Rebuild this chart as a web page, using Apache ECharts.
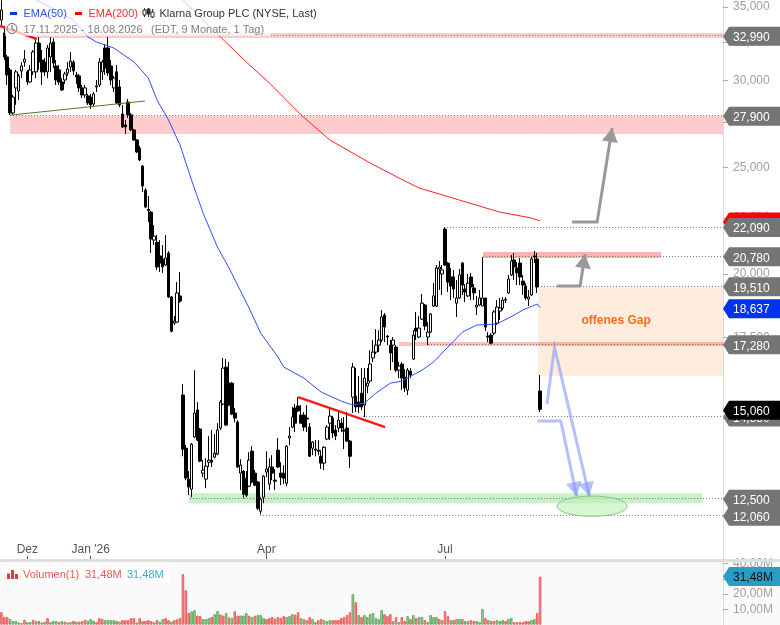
<!DOCTYPE html>
<html><head><meta charset="utf-8">
<style>html,body{margin:0;padding:0;background:#fff}#c{width:780px;height:625px}</style>
<script src="https://cdn.jsdelivr.net/npm/echarts@6/dist/echarts.min.js"></script>
</head><body><div id="c"></div>
<script>
// trading calendar (US holidays skipped); 63 free slots stay on the right of the last bar
const holidays=['2025-11-27','2025-12-25','2026-01-01','2026-01-19','2026-02-16','2026-04-03','2026-05-25','2026-06-19','2026-07-03','2026-09-07','2026-11-26','2026-12-25'];
const categories=[];
for(let d=new Date(Date.UTC(2025,10,17));categories.length<251;d=new Date(d.getTime()+864e5)){
  const s=d.toISOString().slice(0,10);
  if(d.getUTCDay()%6!==0&&!holidays.includes(s))categories.push(s);
}
const tickLabels={'2025-12-01':'Dez','2026-01-02':"Jan '26",'2026-04-01':'Apr','2026-07-01':'Jul'};

// [open, close, low, high]
const candles=[
[34059,34780,33640,35500],[33150,31520,31319,33640],[31520,30353,29725,31652],[30673,28030,27914,30800],[28030,28980,27914,29109],
[29540,30550,28505,30670],[29350,30290,28802,30420],[30610,30930,30150,31190],[31190,31380,30870,31985],[30550,29910,29725,30673],
[29910,30673,29850,30996],[30550,31850,30353,31985],[30550,32450,30150,32860],[32450,31190,30673,32860],[31319,30550,29725,31985],
[31190,30550,30290,31450],[30550,32120,30150,32321],[31520,32450,30550,32860],[32520,31120,30800,32790],[30930,30034,29725,31319],
[30673,29910,29725,30996],[29910,29415,29350,30150],[30034,30420,29790,30550],[30480,30740,30290,31190],[30870,31250,30550,31850],
[31190,30610,30353,31319],[30353,30230,29790,30550],[30290,29540,29290,30420],[29540,29109,28930,29725],[29109,29540,28930,29725],
[29050,28620,28505,29170],[28980,28505,28270,29170],[28560,29170,28380,29290],[29600,29660,29290,30034],[29725,31190,29600,31450],
[30550,31190,30034,31319],[32120,30800,30353,32390],[32120,30480,30290,32860],[30930,30034,29725,31319],[29540,30150,29290,30290],
[30550,28620,28560,30996],[29600,28505,28380,30034],[27970,27220,27165,28505],[27335,27220,26820,27619],[28680,27914,27735,28860],
[27914,27050,26990,28030],[27050,26485,26430,27110],[26485,25830,25770,26540],[26040,25397,25340,26150],[25080,24050,23750,25133],
[23848,23010,22960,23950],[22900,22840,22300,23550],[22770,21520,20900,22820],[21473,21650,21250,22160],[21380,20295,20170,21700],
[20770,20465,20085,21473],[20640,20295,20045,21250],[20380,20680,20340,21700],[20900,19060,19020,20985],[19060,17740,17700,19100],
[18045,18120,17970,18310],[18080,19220,18045,19665],[19100,18895,18820,20085],[15517,13855,13650,15880],[13880,13040,12982,13970],
[13010,12795,12580,13230],[12740,14000,12530,14030],[14210,14945,14180,16350],[15040,14119,14090,15290],[14450,13510,13480,14480],
[13175,13260,13065,13538],[13010,13370,12765,13595],[13480,13538,13345,14240],[13538,13480,13345,14420],[13625,13740,13595,14300],
[13710,14420,13680,14630],[14480,15290,14420,15354],[15230,16420,15195,16770],[16455,14570,14540,16735],[15910,15195,15165,16630],
[15910,14910,14880,15945],[14945,14785,14660,15100],[14665,13345,13320,14724],[13175,13400,12715,13565],[13230,12605,12500,13260],
[13035,12580,12530,13230],[12820,13538,12795,13765],[13795,12930,12900,13940],[13175,12847,12820,13260],[12930,12240,12190,12955],
[12165,12475,12085,12525],[12525,13090,12370,13120],[13205,13290,13065,13795],[12875,13345,12715,13595],[13345,13175,12982,13680],
[12982,12955,12715,13290],[13825,13345,13320,14180],[13175,13065,12847,13480],[13175,13035,12875,13400],[12900,13940,12820,13970],
[14180,14240,13970,14510],[14510,14820,14480,15135],[15100,14630,14360,15230],[15165,15010,14975,15450],[14880,14630,14630,15195],
[14880,14510,14390,14975],[14785,14755,14360,15195],[14510,13650,13625,14630],[13880,14060,13680,14090],[13855,13825,13650,14119],
[13825,13795,13680,14119],[13650,13455,13290,13825],[13455,13910,13260,13940],[14150,14510,14119,14570],[14630,14850,14119,15100],
[14785,14330,14180,14850],[14420,14240,14119,14570],[14480,14724,14360,15040],[14630,14480,14360,14785],[14420,14390,13855,14820],
[14480,14090,14060,14975],[14090,13650,13320,14119],[15450,16455,14945,16595],[15485,15135,14975,16420],[15290,15135,14945,16145],
[15580,15135,15040,16420],[15195,16080,14820,16420],[15810,15910,15580,16420],[15980,16560,15910,17050],[16770,16980,16630,17412],
[16980,17230,16910,17815],[17230,17412,16980,17780],[17412,18280,17340,18545],[18350,17895,17340,18430],[17560,17525,17230,17597],
[17230,16945,16350,17412],[17230,17412,16630,17525],[17160,16350,16280,17230],[16350,16490,16080,16630],[16560,16080,15680,16630],
[16110,15745,15615,16385],[15680,16350,15517,16420],[16315,16180,16080,16420],[16735,17597,16698,17780],[17855,17745,17412,18470],
[17525,17855,17490,18310],[18195,18815,18158,19180],[18740,17930,17780,18780],[17525,17705,17230,18080],[17705,18390,17670,18430],
[18700,19100,18660,19620],[18700,20255,18660,20380],[20210,20295,19340,20550],[20000,20170,19138,20380],[21975,20380,20340,22065],
[20465,19665,19260,20510],[19875,19500,18935,20255],[19875,19380,19020,20170],[18815,19020,18275,19747],[19020,19960,18975,20210],
[20465,19540,19138,20510],[19380,19260,18855,19580],[19100,19620,19060,20000],[19875,19460,18935,20045],[19420,19220,18935,19580],
[18660,18740,18350,19100],[18740,19020,18700,19340],[18700,19020,18700,20725],[19020,17895,17745,19020],[17560,17525,17340,17705],
[17597,17300,17265,17670],[17670,18470,17597,18545],[18045,18660,17970,18935],[18505,18620,18158,19020],[18620,18935,18545,19060],
[18975,18935,18815,19060],[19220,19790,19180,19960],[19960,20550,19920,20810],[20594,20295,19747,20900],[20255,20045,19540,20510],
[20465,19875,19540,20680],[19705,19540,19138,19960],[19500,19020,18935,19620],[18975,19060,18700,19340],[19138,20640,19100,20725],
[20770,20725,20465,20985],[20640,19460,19220,20900],[15650,15060,14975,16180]];

// millions of shares, one per bar
const volume=[8.2,5,5,3.7,2.4,2.4,1.5,1,3.2,1.7,1.7,3.2,2.4,2.4,1.5,2,4.3,1.7,2.4,2.4,
1.7,2.4,2,1.5,1.8,2.4,2,2,2.4,3.2,2.7,3.7,2.7,1.7,4.3,3.7,3,3,3,3,
2.4,2,3,3,3,4.3,4.3,1.5,4.3,2.4,2.4,3,2.4,1.7,3,2,3.7,4.3,3,2,
3,3.5,4.3,33,22.5,7.6,8.7,9.5,6,5.6,3.7,3.7,4.3,5,6.9,8.9,6.7,6,7.6,4.8,
4.3,8.9,5.9,6,6,7.6,5.9,5,5.9,6.3,6.3,4.3,3.7,4.3,5,4,5,4.5,
5.6,5,5.6,6.9,6.5,8.2,4.3,3.7,3,5,3.7,1.7,3,3.7,3,2.4,3,3,3,3,
4.3,5,6.3,8.2,19.9,14.7,6.3,5,6.3,5,6.9,7.6,4.3,3.7,9.5,6.9,5.6,6.9,2.4,5,
1.7,5,2.4,5.6,3.7,6.3,4.3,5,5,3,1.7,6.3,5,5,3.7,3,8.9,5.6,3,3,
3.7,3.7,3.7,2.4,2.4,3,2.4,2.4,1.7,10.2,4.3,3,2.4,2.4,3,2.4,3,2.4,3.7,4.3,
1.7,1.7,1.7,1.7,2.4,2.4,3,3.7,7.6,31.48];
const volumeUp=[0,0,0,1,1,1,1,0,0,1,1,0,1,0,1,1,0,1,1,1,
0,1,0,1,1,0,1,0,0,0,1,1,1,0,0,0,1,1,1,1,
0,1,0,0,0,0,0,1,0,1,0,0,0,1,0,1,1,0,0,1,
0,0,0,0,0,0,1,1,0,0,1,1,1,0,1,1,0,0,1,0,
1,0,0,1,1,1,0,1,0,1,1,1,0,0,0,0,0,0,
0,1,1,1,0,0,1,0,1,0,1,1,0,0,1,1,1,0,0,0,
0,0,0,0,1,0,1,0,1,1,1,1,1,1,1,0,0,0,1,0,
1,0,0,1,0,1,0,1,1,0,1,1,1,1,0,1,0,0,1,0,
1,1,0,1,1,0,0,1,1,1,0,1,0,0,1,1,1,0,1,1,
0,0,0,0,0,0,1,1,0,0];

// moving averages read at points along the curves: [bar, value]
const ema50=[[11,35700],[12,35517],[17,35000],[25,34059],[30,32870],[33,32525],[39,32120],[46,31190],[51,30160],[54,28802],[58,27619],[62,26210],[66,24354],[70,22725],[75,21160],[79,20255],[86,18620],[90,17670],[96,16805],[98,16455],[105,16080],[111,15615],[118,15320],[122,15195],[126,15260],[130,15580],[135,15910],[139,15980],[146,16350],[150,16630],[155,17160],[160,17705],[165,17970],[172,18010],[178,18350],[181,18545],[186,18780],[187,18637]];
const ema200=[[61,35816],[63,35517],[76,32870],[85,31190],[93,29850],[104,27914],[114,26485],[128,25240],[138,24455],[145,23950],[159,23352],[173,22770],[184,22490],[187,22350]];

const priceTicks=[35000,32500,30000,27500,25000,22500,20000,17500,15000,12500];
const volumeTicks=[10,20,30,40];

// drawings: x is measured in bar slots, y is a price
const bands=[[12.8,251,33150,32790,'rgba(255,0,0,0.2)'],[3.5,251,27860,26820,'rgba(255,0,0,0.2)'],[186.8,251,19460,16150,'#feeddd'],[167.7,229.5,20945,20680,'rgba(255,0,0,0.3)'],[138.5,251,17340,17195,'rgba(255,0,0,0.25)'],[65.6,243.75,12630,12370,'rgba(60,200,60,0.28)']];
const dotted=[[12.8,32990],[3.5,27900],[155.2,22090],[167.7,20780],[186.8,19510],[148.6,17280],[126,14850],[66,12500],[90.3,12060]];
const lines=[{p:[[3.5,27900],[50.3,28740]],c:'#4d7a30',w:1},{p:[[103.5,15450],[133.7,14510]],c:'#ff1a1a',w:2.5},{p:[[0,33630],[12.8,32730]],c:'#ff1a1a',w:2.5}];
const arrows=[{p:[[198.6,22300],[207.3,22300],[212.5,27165]],c:'#999999'},{p:[[193.4,19500],[201.4,19500],[203.1,20850]],c:'#999999'},{p:[[189.9,15225],[192.5,17160],[204.6,12555]],c:'rgba(130,150,255,0.6)'},{p:[[186.6,14695],[194.7,14695],[200.2,12555]],c:'rgba(130,150,255,0.6)'}];
const ellipse=[193.4,217.7,12555,12035];
const gapNote=[213.9,18120,'offenes Gap'];

// price tags on the axis, painted in this order
const tagValues=[22350,32990,27900,22090,20780,19510,17280,14850,12500,12060,15060,18637];
const tagTexts=['22,351','32,990','27,900','22,090','20,780','19,510','17,280','14,850','12,500','12,060','15,060','18,637'];
const tagColors=['#ff0000','#757575','#757575','#757575','#757575','#757575','#757575','#757575','#757575','#757575','#000000','#0033ee'];
const lastVolume=31.48;

const FONT='"Liberation Sans",Arial,sans-serif';
const fmt=v=>String(Math.round(v)).replace(/\B(?=(\d{3})+$)/g,',');
const tagShape=(api,y,text,color,txt)=>{
  const x=723;
  return {type:'group',children:[
    {type:'polygon',shape:{points:[[x,y],[x+6,y-9.5],[780,y-9.5],[780,y+9.5],[x+6,y+9.5]]},style:{fill:color}},
    {type:'text',style:{text,x:733,y:y+1.5,fill:txt,font:'12px '+FONT,align:'left',verticalAlign:'middle'}}
  ]};
};
const xyPts=(api,p)=>p.map(a=>api.coord(a));
const headPts=(pts)=>{
  const n=pts.length,a=pts[n-2],b=pts[n-1],L=Math.hypot(b[0]-a[0],b[1]-a[1]);
  const ux=(b[0]-a[0])/L,uy=(b[1]-a[1])/L,l=14,h=8;
  return [b,[b[0]-ux*l-uy*h,b[1]-uy*l+ux*h],[b[0]-ux*l+uy*h,b[1]-uy*l-ux*h]];
};

const chart=echarts.init(document.getElementById('c'),null,{renderer:'canvas'});
const tickFilter=(i,v)=>!!tickLabels[v];
chart.setOption({
 animation:false,backgroundColor:'#fff',
 grid:[{left:0,top:0,width:723,height:559},{left:0,top:562,width:723,height:62.7}],
 xAxis:[
  {type:'category',gridIndex:0,data:categories,boundaryGap:true,axisLine:{show:false,onZero:false},
   axisTick:{show:true,inside:true,length:3,alignWithLabel:true,interval:tickFilter,lineStyle:{color:'#555'}},
   axisLabel:{show:true,inside:true,margin:3,interval:tickFilter,formatter:v=>tickLabels[v]||'',color:'#555',fontFamily:FONT,fontSize:12,hideOverlap:false},splitLine:{show:false}},
  {type:'category',gridIndex:1,data:categories,boundaryGap:true,show:false},
  {type:'value',gridIndex:0,min:0,max:251,show:false}
 ],
 yAxis:[
  {type:'log',gridIndex:0,position:'right',min:11005,max:35517,splitLine:{show:false},
   axisLine:{show:true,onZero:false,lineStyle:{color:'#ddd'}},
   axisTick:{show:true,length:5,customValues:priceTicks,lineStyle:{color:'#aaa'}},
   axisLabel:{customValues:priceTicks,formatter:v=>fmt(v),color:'#a0a0a0',fontFamily:FONT,fontSize:12,margin:10,padding:[2,0,0,0],hideOverlap:false}},
  {type:'value',gridIndex:1,position:'right',min:0,max:41,splitLine:{show:false},
   axisLine:{show:true,onZero:false,lineStyle:{color:'#ddd'}},
   axisTick:{show:true,length:5,customValues:volumeTicks,lineStyle:{color:'#aaa'}},
   axisLabel:{customValues:volumeTicks,formatter:v=>v+',00M',color:'#a0a0a0',fontFamily:FONT,fontSize:12,margin:10,padding:[2,0,0,0],hideOverlap:false}}
 ],
 series:[
  {type:'custom',name:'bands',xAxisIndex:2,yAxisIndex:0,z:1,clip:false,silent:true,
   data:bands.map(b=>[b[0],b[2]]),
   renderItem:(p,api)=>{const b=bands[p.dataIndex],a=api.coord([b[0],b[2]]),c=api.coord([b[1],b[3]]);
     return {type:'rect',shape:{x:a[0],y:a[1],width:c[0]-a[0],height:c[1]-a[1]},style:{fill:b[4]}};}},
  {type:'custom',name:'levels',xAxisIndex:2,yAxisIndex:0,z:1,clip:false,silent:true,
   data:dotted.map(b=>[b[0],b[1]]),
   renderItem:(p,api)=>{const d=dotted[p.dataIndex],a=api.coord([d[0],d[1]]),c=api.coord([251,d[1]]);const y=Math.round(a[1])+.5;
     return {type:'line',shape:{x1:a[0],y1:y,x2:c[0],y2:y},style:{stroke:'#777',lineWidth:1,lineDash:[1,2]}};}},
  {type:'candlestick',name:'Klarna Group PLC',xAxisIndex:0,yAxisIndex:0,z:3,data:candles,barWidth:3,silent:true,
   itemStyle:{color:'#fff',color0:'#000',borderColor:'#000',borderColor0:'#000',borderWidth:1}},
  {type:'line',name:'EMA(50)',xAxisIndex:0,yAxisIndex:0,z:4,data:ema50,showSymbol:false,symbol:'none',silent:true,lineStyle:{color:'#2f4fff',width:1}},
  {type:'line',name:'EMA(200)',xAxisIndex:0,yAxisIndex:0,z:4,data:ema200,showSymbol:false,symbol:'none',silent:true,lineStyle:{color:'#ff2020',width:1}},
  {type:'custom',name:'drawings',xAxisIndex:2,yAxisIndex:0,z:5,clip:false,silent:true,
   data:[[0,20000]],
   renderItem:(p,api)=>{
     const kids=[];
     lines.forEach(l=>kids.push({type:'polyline',shape:{points:xyPts(api,l.p)},style:{stroke:l.c,lineWidth:l.w,fill:null}}));
     const e1=api.coord([ellipse[0],ellipse[2]]),e2=api.coord([ellipse[1],ellipse[3]]);
     kids.push({type:'ellipse',shape:{cx:(e1[0]+e2[0])/2,cy:(e1[1]+e2[1])/2,rx:(e2[0]-e1[0])/2,ry:(e2[1]-e1[1])/2},style:{fill:'rgba(190,240,180,0.6)',stroke:'#86c886',lineWidth:1}});
     arrows.forEach(a=>{const pts=xyPts(api,a.p);
       kids.push({type:'polyline',shape:{points:pts},style:{stroke:a.c,lineWidth:3,fill:null,lineJoin:'miter'}});
       kids.push({type:'polygon',shape:{points:headPts(pts)},style:{fill:a.c}});});
     const t=api.coord([gapNote[0],gapNote[1]]);
     kids.push({type:'text',style:{text:gapNote[2],x:t[0],y:t[1],fill:'#ff6a1f',font:'bold 12px '+FONT,align:'center',verticalAlign:'middle'}});
     return {type:'group',children:kids};
   }},
  {type:'custom',name:'tags',xAxisIndex:2,yAxisIndex:0,z:20,clip:false,silent:true,
   data:tagValues.map(v=>[0,v]),
   renderItem:(p,api)=>{const v=tagValues[p.dataIndex];return tagShape(api,api.coord([0,v])[1]+1,tagTexts[p.dataIndex],tagColors[p.dataIndex],'#fff');}},
  {type:'bar',name:'Volumen(1)',xAxisIndex:1,yAxisIndex:1,z:3,barWidth:2.6,silent:true,
   data:volume.map((v,i)=>({value:v,itemStyle:volumeUp[i]?{color:'#a5d8a0',borderColor:'#5fa860',borderWidth:1}:{color:'#f49090',borderColor:'#ea5f5f',borderWidth:1}}))},
  {type:'custom',name:'volume tag',xAxisIndex:1,yAxisIndex:1,z:20,clip:false,silent:true,
   data:[[0,lastVolume]],
   renderItem:(p,api)=>tagShape(api,api.coord([0,lastVolume])[1],'31,48M','#2a9dc6','#111')}
 ],
 graphic:[
  {type:'rect',z:-10,silent:true,shape:{x:0,y:562,width:780,height:63},style:{fill:'#fafafa'}},
  {type:'rect',z:60,silent:true,shape:{x:0,y:559,width:780,height:3},style:{fill:'#dedede'}},
  {type:'rect',z:50,silent:true,shape:{x:5,y:0,width:266,height:36},style:{fill:'rgba(255,255,255,0.72)'}},
  {type:'rect',z:51,silent:true,shape:{x:10,y:12,width:7,height:3},style:{fill:'#0033ee'}},
  {type:'text',z:51,silent:true,style:{text:'EMA(50)',x:23.5,y:14,fill:'#3355ee',font:'11px '+FONT,verticalAlign:'middle'}},
  {type:'rect',z:51,silent:true,shape:{x:75,y:12,width:7,height:3},style:{fill:'#ff0000'}},
  {type:'text',z:51,silent:true,style:{text:'EMA(200)',x:88.5,y:14,fill:'#f03030',font:'11px '+FONT,verticalAlign:'middle'}},
  {type:'group',z:51,silent:true,children:[
    {type:'line',z:51,shape:{x1:144.5,y1:8,x2:144.5,y2:17},style:{stroke:'#333',lineWidth:1}},
    {type:'rect',z:52,shape:{x:143,y:10,width:3,height:5},style:{fill:'#fff',stroke:'#333',lineWidth:1}},
    {type:'line',z:51,shape:{x1:148.5,y1:8,x2:148.5,y2:17},style:{stroke:'#333',lineWidth:1}},
    {type:'rect',z:52,shape:{x:147,y:9,width:3,height:5},style:{fill:'#333',stroke:'#333',lineWidth:1}},
    {type:'line',z:51,shape:{x1:152.5,y1:9,x2:152.5,y2:18},style:{stroke:'#333',lineWidth:1}},
    {type:'rect',z:52,shape:{x:151,y:12,width:3,height:5},style:{fill:'#fff',stroke:'#333',lineWidth:1}}
  ]},
  {type:'text',z:51,silent:true,style:{text:'Klarna Group PLC (NYSE, Last)',x:159.5,y:14,fill:'#333',font:'11px '+FONT,verticalAlign:'middle'}},
  {type:'circle',z:51,silent:true,shape:{cx:12,cy:28.5,r:5},style:{fill:'rgba(255,255,255,0)',stroke:'#666',lineWidth:1}},
  {type:'polyline',z:51,silent:true,shape:{points:[[12,25],[12,29],[15,30.5]]},style:{fill:null,stroke:'#666',lineWidth:1}},
  {type:'text',z:51,silent:true,style:{text:'17.11.2025 - 18.08.2026',x:23.5,y:29.5,fill:'#808080',font:'11px '+FONT,verticalAlign:'middle'}},
  {type:'text',z:51,silent:true,style:{text:'(EDT, 9 Monate, 1 Tag)',x:151,y:29.5,fill:'#808080',font:'11px '+FONT,verticalAlign:'middle'}},
  {type:'rect',z:50,silent:true,shape:{x:5,y:567,width:165,height:16},style:{fill:'#fff'}},
  {type:'rect',z:51,silent:true,shape:{x:7,y:573.5,width:3,height:5.5},style:{fill:'#e33'}},
  {type:'rect',z:51,silent:true,shape:{x:11,y:570,width:3,height:9},style:{fill:'#e33'}},
  {type:'rect',z:51,silent:true,shape:{x:15,y:574,width:3,height:5},style:{fill:'#e33'}},
  {type:'text',z:51,silent:true,style:{text:'Volumen(1)',x:23,y:575,fill:'#ee5555',font:'11px '+FONT,verticalAlign:'middle'}},
  {type:'text',z:51,silent:true,style:{text:'31,48M',x:85,y:575,fill:'#ee5555',font:'11px '+FONT,verticalAlign:'middle'}},
  {type:'text',z:51,silent:true,style:{text:'31,48M',x:127,y:575,fill:'#3fa7d6',font:'11px '+FONT,verticalAlign:'middle'}}
 ]
});
</script></body></html>
